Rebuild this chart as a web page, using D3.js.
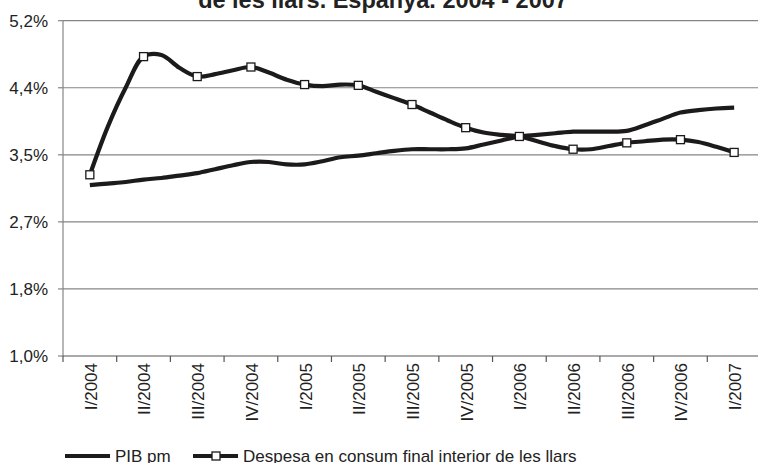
<!doctype html>
<html>
<head>
<meta charset="utf-8">
<title>PIB i despesa</title>
<script src="https://d3js.org/d3.v7.min.js"></script>
<style>
  body { margin: 0; background: #fff; }
  svg text { font-family: Arial, "Liberation Sans", sans-serif; fill: #222; }
</style>
</head>
<body>
<div id="chart"></div>
<script>
// quarter labels on the x axis
var quarters = ["I/2004", "II/2004", "III/2004", "IV/2004", "I/2005", "II/2005", "III/2005",
                "IV/2005", "I/2006", "II/2006", "III/2006", "IV/2006", "I/2007"];

// values, three steps per quarter (markers every 3rd step)
var pib = [3.14, 3.16, 3.18, 3.21, 3.23, 3.26, 3.29, 3.34, 3.39, 3.43, 3.43, 3.40, 3.40,
           3.44, 3.49, 3.51, 3.54, 3.57, 3.59, 3.59, 3.59, 3.60, 3.65, 3.70, 3.75,
           3.77, 3.79, 3.81, 3.81, 3.81, 3.82, 3.89, 3.97, 4.05, 4.08, 4.10, 4.11];

var despesa = [3.27, 3.87, 4.36, 4.75, 4.77, 4.61, 4.50, 4.53, 4.58, 4.62, 4.55, 4.46, 4.40,
               4.38, 4.40, 4.39, 4.31, 4.23, 4.15, 4.05, 3.95, 3.86, 3.80, 3.77, 3.75,
               3.69, 3.63, 3.59, 3.59, 3.63, 3.67, 3.69, 3.71, 3.71, 3.68, 3.62, 3.55];

var yTicks = [1.0, 1.84, 2.68, 3.52, 4.36, 5.2];

var seriesNames = ["PIB pm", "Despesa en consum final interior de les llars"];

var width = 758, height = 463;
var plotL = 63, plotR = 761, plotT = 20.7, plotB = 356;
var ink = "#1c1a1b";

var svg = d3.select("#chart").append("svg")
    .attr("width", width)
    .attr("height", height);

svg.append("rect").attr("width", width).attr("height", height).attr("fill", "#fff");

var x = d3.scaleBand().domain(quarters).range([plotL, plotR]).padding(0);
var bw = x.bandwidth();
var xm = d3.scaleLinear()
    .domain([0, 36])
    .range([x(quarters[0]) + bw / 2, x(quarters[12]) + bw / 2]);
var y = d3.scaleLinear().domain([1.0, 5.2]).range([plotB, plotT]);

var fmt = function(v) { return d3.format(".1f")(v).replace(".", ",") + "%"; };

// title (only the last line shows at the top edge)
svg.append("text")
    .attr("x", 383)
    .attr("y", 8)
    .attr("text-anchor", "middle")
    .style("font-weight", "bold")
    .style("font-size", "23.5px")
    .text("de les llars. Espanya. 2004 - 2007");

// gridlines
svg.append("g").selectAll("line")
    .data(yTicks.slice(1))
    .enter().append("line")
    .attr("x1", plotL).attr("x2", plotR)
    .attr("y1", function(d) { return y(d); })
    .attr("y2", function(d) { return y(d); })
    .attr("stroke", "#858585")
    .attr("stroke-width", 1.2);

// y axis
var yAxis = svg.append("g");
yAxis.append("line")
    .attr("x1", plotL).attr("x2", plotL)
    .attr("y1", plotT).attr("y2", plotB)
    .attr("stroke", "#858585").attr("stroke-width", 1.2);
yAxis.selectAll("line.tick")
    .data(yTicks)
    .enter().append("line")
    .attr("class", "tick")
    .attr("x1", plotL - 5).attr("x2", plotL)
    .attr("y1", function(d) { return y(d); })
    .attr("y2", function(d) { return y(d); })
    .attr("stroke", "#858585").attr("stroke-width", 1.2);
yAxis.selectAll("text")
    .data(yTicks)
    .enter().append("text")
    .attr("x", 48)
    .attr("y", function(d) { return y(d); })
    .attr("dy", "0.35em")
    .attr("text-anchor", "end")
    .style("font-size", "17px")
    .text(fmt);

// x axis
var xAxis = svg.append("g");
xAxis.append("line")
    .attr("x1", plotL).attr("x2", plotR)
    .attr("y1", plotB).attr("y2", plotB)
    .attr("stroke", "#555").attr("stroke-width", 1.2);
xAxis.selectAll("line.tick")
    .data(quarters.concat(["end"]))
    .enter().append("line")
    .attr("class", "tick")
    .attr("x1", function(d, i) { return plotL + i * bw; })
    .attr("x2", function(d, i) { return plotL + i * bw; })
    .attr("y1", plotB).attr("y2", plotB + 6)
    .attr("stroke", "#555").attr("stroke-width", 1.2);
xAxis.selectAll("text")
    .data(quarters)
    .enter().append("text")
    .attr("transform", function(d) {
        return "translate(" + (x(d) + bw / 2 + 1) + "," + (plotB + 7) + ") rotate(-90)";
    })
    .attr("dy", "0.35em")
    .attr("text-anchor", "end")
    .style("font-size", "17px")
    .text(function(d) { return d; });

// lines
var line = d3.line()
    .x(function(d, i) { return xm(i); })
    .y(function(d) { return y(d); })
    .curve(d3.curveCatmullRom);

svg.append("path")
    .datum(pib)
    .attr("d", line)
    .attr("fill", "none")
    .attr("stroke", ink)
    .attr("stroke-width", 4.2)
    .attr("stroke-linejoin", "round");

svg.append("path")
    .datum(despesa)
    .attr("d", line)
    .attr("fill", "none")
    .attr("stroke", ink)
    .attr("stroke-width", 4.2)
    .attr("stroke-linejoin", "round");

var ms = 8;
svg.append("g").selectAll("rect")
    .data(despesa.map(function(v, i) { return { v: v, i: i }; }).filter(function(d) { return d.i % 3 === 0; }))
    .enter().append("rect")
    .attr("x", function(d) { return xm(d.i) - ms / 2; })
    .attr("y", function(d) { return y(d.v) - ms / 2; })
    .attr("width", ms).attr("height", ms)
    .attr("fill", "#fff")
    .attr("stroke", ink)
    .attr("stroke-width", 1.3);

// legend
var ly = 456;
var legend = svg.append("g");
legend.append("line")
    .attr("x1", 65).attr("x2", 110).attr("y1", ly).attr("y2", ly)
    .attr("stroke", ink).attr("stroke-width", 4.2);
legend.append("text")
    .attr("x", 115).attr("y", ly).attr("dy", "0.35em")
    .style("font-size", "17px")
    .text(seriesNames[0]);
legend.append("line")
    .attr("x1", 193).attr("x2", 238).attr("y1", ly).attr("y2", ly)
    .attr("stroke", ink).attr("stroke-width", 4.2);
legend.append("rect")
    .attr("x", 216 - ms / 2).attr("y", ly - ms / 2)
    .attr("width", ms).attr("height", ms)
    .attr("fill", "#fff").attr("stroke", ink).attr("stroke-width", 1.3);
legend.append("text")
    .attr("x", 243).attr("y", ly).attr("dy", "0.35em")
    .style("font-size", "17px")
    .text(seriesNames[1]);
</script>
</body>
</html>
